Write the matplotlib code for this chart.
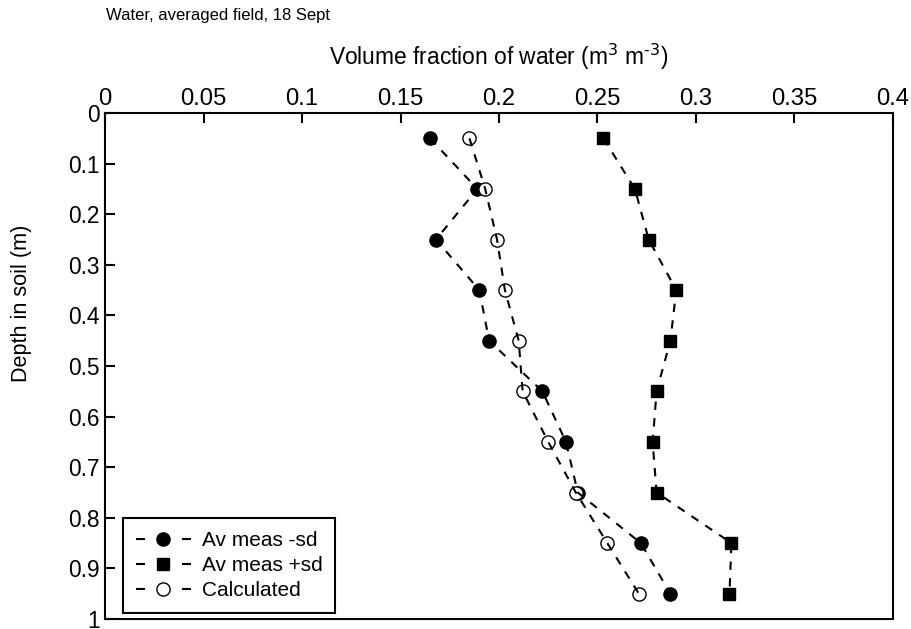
import matplotlib
matplotlib.use("Agg")
import matplotlib.pyplot as plt
from matplotlib import font_manager
from matplotlib.lines import Line2D
from matplotlib.ticker import FuncFormatter

# condensed face for the axis text, regular face for legend and caption
try:
    font_manager.findfont('Liberation Sans Narrow', fallback_to_default=False)
    narrow = 'Liberation Sans Narrow'
    scale = 1.0
except ValueError:
    narrow = 'Liberation Sans'
    scale = 0.82
plt.rcParams['font.family'] = ['Liberation Sans', 'DejaVu Sans']

# depth of each sampling layer (m)
depth = [0.05, 0.15, 0.25, 0.35, 0.45, 0.55, 0.65, 0.75, 0.85, 0.95]
# volumetric water content (m3 m-3)
meas_minus_sd = [0.165, 0.189, 0.168, 0.190, 0.195, 0.222, 0.234, 0.240, 0.272, 0.287]
meas_plus_sd = [0.253, 0.269, 0.276, 0.290, 0.287, 0.280, 0.278, 0.280, 0.318, 0.317]
calculated = [0.185, 0.193, 0.199, 0.203, 0.210, 0.212, 0.225, 0.239, 0.255, 0.271]

x_ticks = [0, 0.05, 0.1, 0.15, 0.2, 0.25, 0.3, 0.35, 0.4]
y_ticks = [0, 0.1, 0.2, 0.3, 0.4, 0.5, 0.6, 0.7, 0.8, 0.9, 1]

fig = plt.figure(figsize=(9.11, 6.29), dpi=100)
ax = fig.add_axes([0.1153, 0.0159, 0.8649, 0.8044])

dash = (0, (4, 4))
series = [
    (meas_minus_sd, 'o', 9.5, 'black', 'Av meas -sd'),
    (meas_plus_sd, 's', 8.5, 'black', 'Av meas +sd'),
    (calculated, 'o', 9.5, 'white', 'Calculated'),
]
handles = []
for vals, mk, ms, fc, lab in series:
    ax.plot(vals, depth, linestyle='none', marker=mk, ms=ms, mfc=fc,
            mec='black', mew=1.0, zorder=2)
    ax.plot(vals, depth, color='black', lw=1.5, linestyle=dash, zorder=3)
    handles.append(Line2D([], [], color='black', lw=1.5, linestyle=(0, (4.3, 17.8)),
                          marker=mk, ms=ms, mfc=fc, mec='black', mew=1.0, label=lab))

ax.set_xlim(0, 0.4)
ax.set_ylim(1, 0)
ax.set_xticks(x_ticks)
ax.set_yticks(y_ticks)
fmt = FuncFormatter(lambda v, p: '%g' % round(v, 3))
ax.xaxis.set_major_formatter(fmt)
ax.yaxis.set_major_formatter(fmt)
ax.xaxis.tick_top()
ax.xaxis.set_label_position('top')
ax.tick_params(axis='both', direction='in', length=7, width=1.5, pad=4)
ax.tick_params(axis='x', pad=2)
for t in ax.get_xticklabels():
    t.set_fontfamily(narrow)
    t.set_fontsize(21 * scale)
for t in ax.get_yticklabels():
    t.set_fontfamily(narrow)
    t.set_fontsize(20 * scale)
for s in ax.spines.values():
    s.set_linewidth(1.5)

ax.set_xlabel('Volume fraction of water (m$^3$ m$^{\\text{-}3}$)', fontsize=20 * scale,
              fontfamily=narrow, labelpad=17)
fig.text(0.024, 0.518, 'Depth in soil (m)', rotation=90, fontsize=19 * scale,
         fontfamily=narrow, ha='center', va='center')
fig.text(0.1164, 0.976, 'Water, averaged field, 18 Sept', fontsize=12,
         ha='left', va='center')

leg = ax.legend(handles=handles, loc='lower left', bbox_to_anchor=(0.0228, 0.0119),
                fontsize=15, frameon=True, fancybox=False, handlelength=2.64,
                handletextpad=0.53, borderpad=0.6, labelspacing=0.3,
                borderaxespad=0, framealpha=1)
leg.get_frame().set_edgecolor('black')
leg.get_frame().set_linewidth(1.5)

fig.savefig('out.png', dpi=100)
